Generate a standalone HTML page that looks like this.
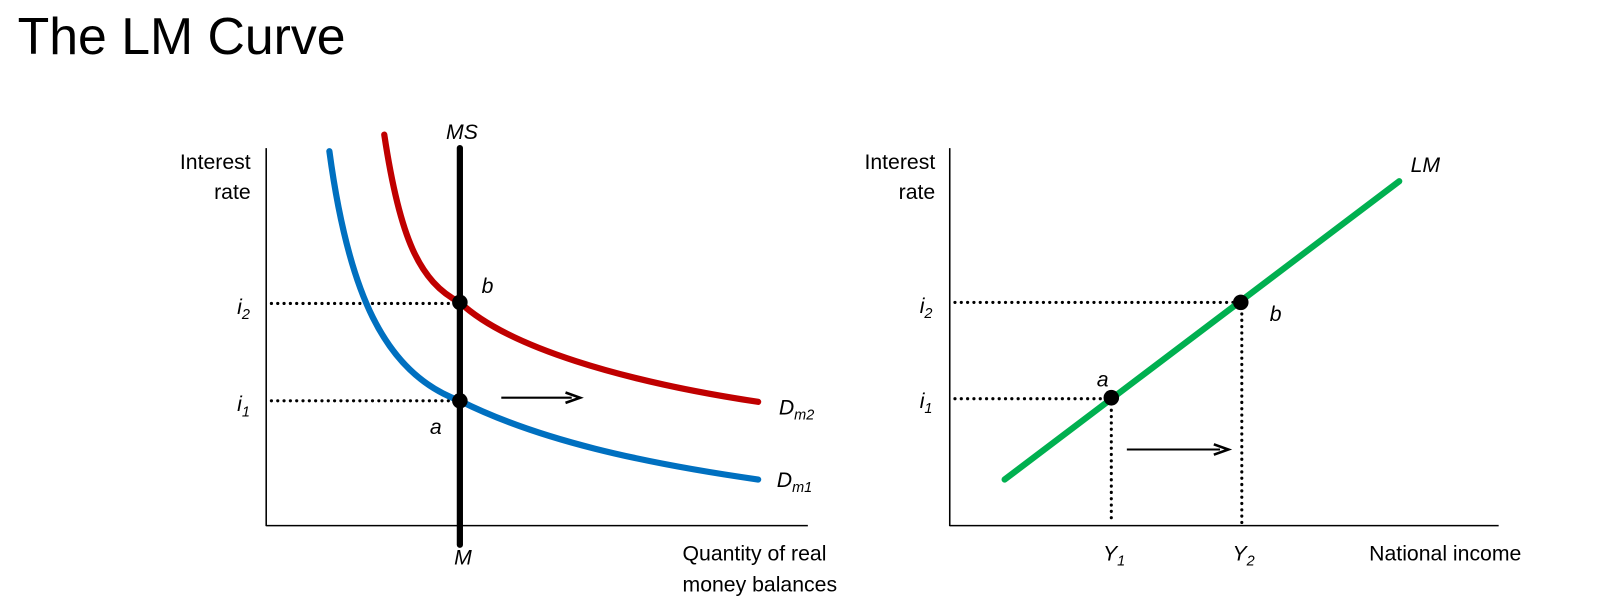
<!DOCTYPE html>
<html><head><style>
body{margin:0;background:#fff;width:1624px;height:598px;overflow:hidden}
svg{display:block}
text{font-family:"Liberation Sans",Arial,sans-serif;fill:#000}
</style></head><body>
<svg width="1624" height="598" viewBox="0 0 1568 577.4">
<text x="17" y="52" font-size="50">The LM Curve</text>
<!-- Left chart -->
<line x1="257" y1="143" x2="257" y2="508" stroke="#000" stroke-width="1.5"/>
<line x1="257" y1="507.5" x2="780" y2="507.5" stroke="#000" stroke-width="1.5"/>
<text x="242" y="163" font-size="20.5" text-anchor="end">Interest</text>
<text x="242" y="192" font-size="20.5" text-anchor="end">rate</text>
<line x1="262" y1="293" x2="440" y2="293" stroke="#000" stroke-width="3" stroke-dasharray="0.1 6" stroke-linecap="round"/>
<line x1="262" y1="387" x2="440" y2="387" stroke="#000" stroke-width="3" stroke-dasharray="0.1 6" stroke-linecap="round"/>
<path d="M318,146 C336,280 370,360 444,387 C520,425 620,447 732,463" fill="none" stroke="#0070c0" stroke-width="6" stroke-linecap="round"/>
<path d="M371,130 C386,230 405,272 444,292 C490,335 600,368 732,388" fill="none" stroke="#c00000" stroke-width="6" stroke-linecap="round"/>
<line x1="444" y1="143" x2="444" y2="526" stroke="#000" stroke-width="6" stroke-linecap="round"/>
<circle cx="444" cy="292" r="7.5"/>
<circle cx="444" cy="387" r="7.5"/>
<line x1="484" y1="384" x2="552" y2="384" stroke="#000" stroke-width="2"/>
<path d="M546,379 L560,384 L546,389" fill="none" stroke="#000" stroke-width="2.5"/>
<text x="446" y="134" font-size="20.5" font-style="italic" text-anchor="middle">MS</text>
<text x="465" y="283" font-size="20.5" font-style="italic">b</text>
<text x="415" y="419" font-size="20.5" font-style="italic">a</text>
<text x="229" y="303" font-size="20.5" font-style="italic">i<tspan font-size="14" dy="5">2</tspan></text>
<text x="229" y="397" font-size="20.5" font-style="italic">i<tspan font-size="14" dy="5">1</tspan></text>
<text x="752" y="400" font-size="20.5" font-style="italic">D<tspan font-size="14" dy="5">m2</tspan></text>
<text x="750" y="470" font-size="20.5" font-style="italic">D<tspan font-size="14" dy="5">m1</tspan></text>
<text x="447" y="545" font-size="20.5" font-style="italic" text-anchor="middle">M</text>
<text x="659" y="541" font-size="20.5">Quantity of real</text>
<text x="659" y="571" font-size="20.5">money balances</text>
<!-- Right chart -->
<line x1="917" y1="143" x2="917" y2="508" stroke="#000" stroke-width="1.5"/>
<line x1="917" y1="507.5" x2="1447" y2="507.5" stroke="#000" stroke-width="1.5"/>
<text x="903" y="163" font-size="20.5" text-anchor="end">Interest</text>
<text x="903" y="192" font-size="20.5" text-anchor="end">rate</text>
<line x1="922" y1="292" x2="1194" y2="292" stroke="#000" stroke-width="3" stroke-dasharray="0.1 6" stroke-linecap="round"/>
<line x1="922" y1="385" x2="1070" y2="385" stroke="#000" stroke-width="3" stroke-dasharray="0.1 6" stroke-linecap="round"/>
<line x1="1073" y1="390" x2="1073" y2="505" stroke="#000" stroke-width="3" stroke-dasharray="0.1 6" stroke-linecap="round"/>
<line x1="1199" y1="297" x2="1199" y2="505" stroke="#000" stroke-width="3" stroke-dasharray="0.1 6" stroke-linecap="round"/>
<line x1="970" y1="463" x2="1351" y2="175" stroke="#00b050" stroke-width="6" stroke-linecap="round"/>
<circle cx="1073" cy="384" r="7.5"/>
<circle cx="1198" cy="292" r="7.5"/>
<line x1="1088" y1="434" x2="1178" y2="434" stroke="#000" stroke-width="2"/>
<path d="M1172,429 L1186,434 L1172,439" fill="none" stroke="#000" stroke-width="2.5"/>
<text x="1362" y="166" font-size="20.5" font-style="italic">LM</text>
<text x="1226" y="310" font-size="20.5" font-style="italic">b</text>
<text x="1059" y="373" font-size="20.5" font-style="italic">a</text>
<text x="888" y="302" font-size="20.5" font-style="italic">i<tspan font-size="14" dy="5">2</tspan></text>
<text x="888" y="394" font-size="20.5" font-style="italic">i<tspan font-size="14" dy="5">1</tspan></text>
<text x="1065" y="541" font-size="20.5" font-style="italic">Y<tspan font-size="14" dy="5">1</tspan></text>
<text x="1190" y="541" font-size="20.5" font-style="italic">Y<tspan font-size="14" dy="5">2</tspan></text>
<text x="1322" y="541" font-size="20.5">National income</text>
</svg>
</body></html>
